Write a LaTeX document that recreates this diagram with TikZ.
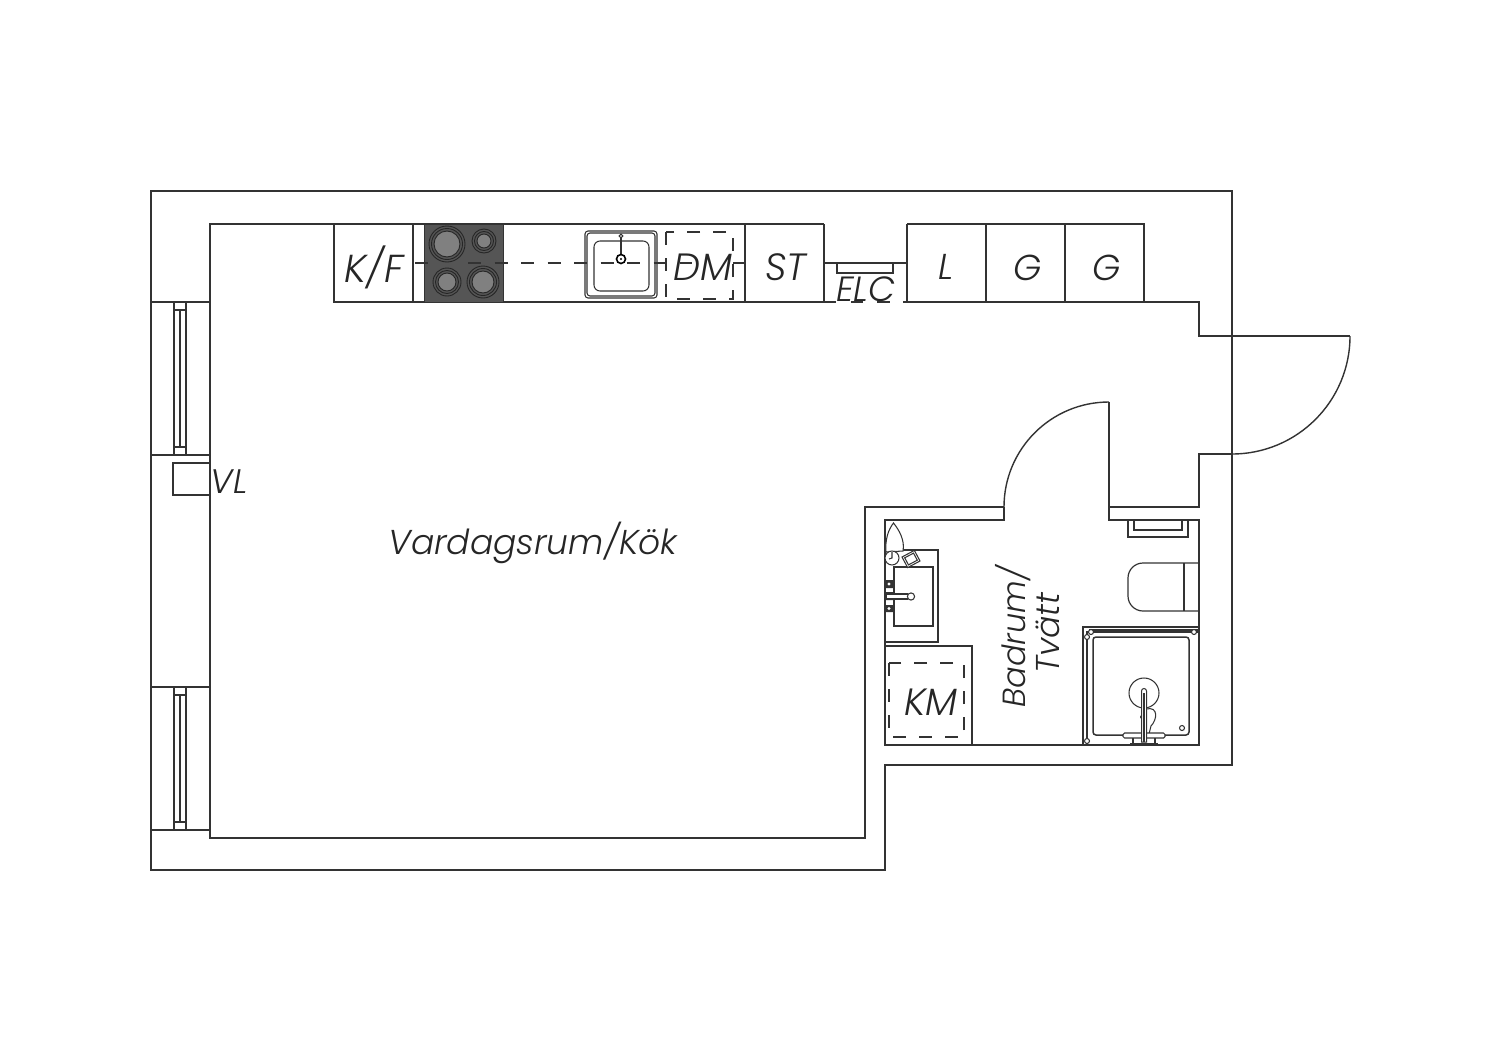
\documentclass[tikz,border=0pt]{standalone}
\usepackage{fontspec}
\setmainfont{Poppins Light Italic}
\definecolor{ink}{HTML}{333333}
\definecolor{hob}{HTML}{555555}
\definecolor{ring}{HTML}{808080}
\tikzset{
  wall/.style={draw=ink,line width=1.25pt,line join=miter},
  swing/.style={draw=ink,line width=1.4pt},
  fine/.style={draw=ink,line width=1.05pt},
  dashline/.style={draw=ink,line width=1.05pt,dash pattern=on 13pt off 13.5pt},
  lbl/.style={inner sep=0pt,text=black!85,font=\fontsize{38}{40}\selectfont},
  burner/.style={draw=black!85,line width=0.9pt,fill=ring},
}
\begin{document}
\begin{tikzpicture}[x=1pt,y=-1pt]
\useasboundingbox (0,0) rectangle (1500,1060);
\fill[white] (0,0) rectangle (1500,1060);
% outer wall
\draw[wall] (151,191) -- (1232,191) -- (1232,765) -- (885,765) -- (885,870) -- (151,870) -- cycle;
% room outline
\draw[wall] (824,224) -- (210,224) -- (210,838) -- (865,838) -- (865,507) -- (1004,507);
\draw[wall] (907,224) -- (1144,224) -- (1144,302);
\draw[wall] (334,224) -- (334,302) -- (824,302);
\draw[wall] (907,302) -- (1199,302) -- (1199,336) -- (1350,336);
\draw[swing] (1350,336) arc[start angle=0,end angle=90,radius=118];
\draw[wall] (1232,454) -- (1199,454) -- (1199,507) -- (1109,507) -- (1109,402);
\draw[swing] (1109,402) arc[start angle=-90,end angle=-180,radius=105];
% bathroom
\draw[wall] (1004,507) -- (1004,520) -- (885,520) -- (885,745) -- (1199,745) -- (1199,520) -- (1109,520) -- (1109,507);
% windows
\foreach \ya/\yb in {302/455,687/830}{
  \draw[fine] (151,\ya) -- (210,\ya) (151,\yb) -- (210,\yb);
  \draw[fine] (174,\ya) -- (174,\yb) (186,\ya) -- (186,\yb);
  \draw[fine] (180,\ya+8) -- (180,\yb-8) (174,\ya+8) -- (186,\ya+8) (174,\yb-8) -- (186,\yb-8);
}
\draw[fine] (210,463) -- (173,463) -- (173,495) -- (210,495);
% kitchen units
\foreach \x in {413,745,907,986,1065}{ \draw[fine] (\x,224) -- (\x,302); }
\draw[fine] (824,224) -- (824,302);
\draw[fine] (824,263) -- (907,263);
\draw[fine] (837,263) -- (837,273) -- (893,273) -- (893,263);
\draw[fine] (824,302) -- (836,302) (851,302) -- (863,302) (877,302) -- (890,302) (903,302) -- (907,302);
% hob
\filldraw[draw=ink,fill=hob,line width=1pt] (424,224) rectangle (503,302);
\foreach \cx/\cy/\r in {447/244/18,484/241/12,447/282/14,483/282/16}{
  \fill[hob] (\cx,\cy) circle (\r);
  \draw[black!85,line width=.9pt] (\cx,\cy) circle (\r);
  \draw[black!85,line width=.9pt] (\cx,\cy) circle (\r-2.5);
  \filldraw[burner] (\cx,\cy) circle (\r-5);
}
% sink
\filldraw[fine,fill=white,rounded corners=3pt] (585,231) rectangle (657,298);
\draw[fine,rounded corners=3pt] (587,233) rectangle (655,296);
\draw[fine,rounded corners=6pt] (594,241) rectangle (649,291);
% dashed run
\draw[dashline] (415,263) -- (428,263);
\draw[dashline] (468,263) -- (692,263);
\draw[dashline] (733,263) -- (745,263);
\draw[ink,line width=2pt] (621,238) -- (621,258);
\filldraw[draw=black,fill=white,line width=1.6pt] (621,259) circle (4.5);
\fill[black] (621,259) circle (1.2);
\draw[fine] (621,236) circle (1.8);
% DM
\draw[fine,dash pattern=on 13pt off 13pt] (666,232) rectangle (733,299);
% bathroom fixtures: basin counter
\draw[fine] (885,550) -- (938,550) -- (938,642) -- (885,642);
\draw[fine] (894,567) rectangle (933,626);
\fill[ink] (885,580) rectangle (893,588) (885,592) rectangle (893,600) (885,605) rectangle (893,612);
\fill[white] (889,584) circle (1.6) (889,608.5) circle (1.6);
\fill[white] (887,594) rectangle (908,598.5);
\draw[fine] (885,594) -- (908,594) (885,599) -- (908,599);
\filldraw[fine,fill=white] (911,596.5) circle (3.6);
% tap and spout
\filldraw[fine,fill=white] (893.5,523) .. controls (899,530) and (905,540) .. (903,551) -- (886,552) .. controls (885,540) and (888,530) .. (893.5,523) -- cycle;
\filldraw[fine,fill=white] (892,558) circle (7);
\draw[fine] (892,552) -- (892,558) -- (889,559);
\filldraw[fine,fill=white,rotate around={28:(911,559)}] (904,553) rectangle (918,565);
\draw[fine,rotate around={28:(911,559)}] (906,555) rectangle (916,563);
% washer
\draw[fine] (885,646) -- (972,646) -- (972,745);
\draw[fine,dash pattern=on 13pt off 13pt] (889,663) rectangle (964,737);
% toilet cistern and bowl
\draw[fine] (1128,520) -- (1128,537) -- (1188,537) -- (1188,520);
\draw[fine] (1134,520) -- (1134,530) -- (1182,530) -- (1182,520);
\draw[swing,line width=1.2pt] (1199,563) -- (1143,563) arc[start angle=-90,end angle=-180,radius=15] -- (1128,596) arc[start angle=180,end angle=90,radius=15] -- (1199,611);
\draw[fine] (1184,563) -- (1184,611);
% shower
\draw[fine] (1083,745) -- (1083,627) -- (1199,627);
\draw[fine] (1087,745) -- (1087,632) -- (1199,632);
\draw[fine] (1089,630) -- (1199,630);
\draw[line width=1.5pt,draw=ink,rounded corners=3pt] (1093,637) rectangle (1189,735);
\draw[fine] (1144,693) circle (15);
\filldraw[fine,fill=white] (1091,632) circle (2.5);
\filldraw[fine,fill=white] (1194,632) circle (2.5);
\filldraw[fine,fill=white] (1087,637) circle (2.5);
\filldraw[fine,fill=white] (1087,741) circle (2.5);
\draw[fine] (1182,728) circle (2.5);
\draw[fine] (1146,709) .. controls (1159,706) and (1157,720) .. (1151,726) -- (1149,734);
\fill[ink] (1142,717) circle (2);
\filldraw[fine,fill=white,rounded corners=1.5pt] (1123,733) rectangle (1165,738);
\draw[fine] (1133,738) -- (1133,744) (1155,738) -- (1155,744) (1130,744) -- (1158,744);
\filldraw[draw=ink,fill=white,line width=1pt] (1141.5,691) -- (1141.5,742) -- (1146.5,742) -- (1146.5,691) arc[start angle=0,end angle=-180,radius=2.5] -- cycle;
\draw[ink,line width=1.4pt] (1144,693) -- (1144,742);
% labels
\node[lbl,font=\fontsize{39}{41}\selectfont] (kf) at (374,267) {K/F};
\node[lbl] (dm) at (703,267) {DM};
\node[lbl] (st) at (786,267) {ST};
\node[lbl,font=\fontsize{35}{37}\selectfont] (elc) at (866,289) {ELC};
\node[lbl,font=\fontsize{36}{38}\selectfont] (l) at (946,267) {L};
\node[lbl,font=\fontsize{36}{38}\selectfont] (g1) at (1028,268) {G};
\node[lbl,font=\fontsize{36}{38}\selectfont] (g2) at (1107,268) {G};
\node[lbl,font=\fontsize{34}{36}\selectfont] (vl) at (229,482) {VL};
\node[lbl,font=\fontsize{34.5}{37}\selectfont] (room) at (533,543) {Vardagsrum/Kök};
\node[lbl] (km) at (931,702) {KM};
\node[lbl,rotate=90,font=\fontsize{32}{34}\selectfont] (bad) at (1013,637) {Badrum/};
\node[lbl,rotate=90,font=\fontsize{33}{35}\selectfont] (tv) at (1048,633) {Tvätt};
\end{tikzpicture}
\end{document}
